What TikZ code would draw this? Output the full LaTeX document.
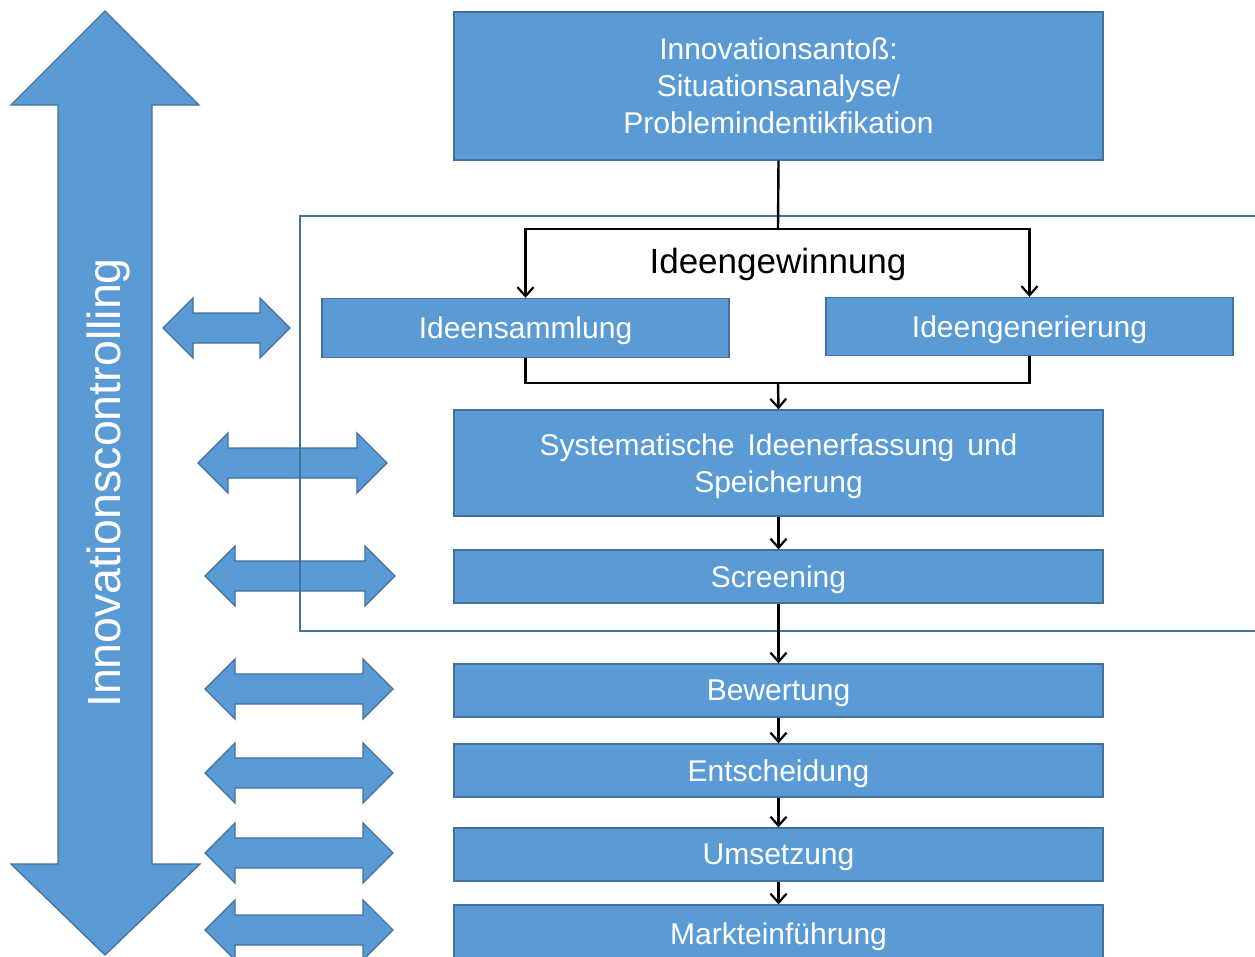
\documentclass[tikz,border=0pt]{standalone}
\usepackage{fontspec}
\setmainfont{Liberation Sans}
\usetikzlibrary{arrows.meta}
\definecolor{boxfill}{HTML}{5B9BD5}
\definecolor{boxline}{HTML}{41719C}
\tikzset{
  stagebox/.style={rectangle, draw=boxline, line width=1.3pt, fill=boxfill,
    text=white, align=center, inner sep=0pt, text depth=0pt,
    font=\fontsize{30}{37}\selectfont},
  flowline/.style={draw=black, line width=2.4pt},
  flowarrow/.style={flowline, -{Straight Barb[length=9pt,width=16pt,line width=2.2pt]}},
  bigshape/.style={fill=boxfill, draw=boxline, line width=1.3pt, line join=miter},
  framebox/.style={draw=boxline, line width=1.3pt}
}
% horizontal double arrow: left tip x, right tip x, centre y
\newcommand{\twowayarrow}[3]{%
  \path[bigshape] (#1,#3) -- (#1+30,#3-30) -- (#1+30,#3-15) -- (#2-30,#3-15)
    -- (#2-30,#3-30) -- (#2,#3) -- (#2-30,#3+30) -- (#2-30,#3+15)
    -- (#1+30,#3+15) -- (#1+30,#3+30) -- cycle;}
\begin{document}
\begin{tikzpicture}[x=1pt,y=-1pt]
\useasboundingbox (0,0) rectangle (1255,956);

% controlling arrow on the left
\path[bigshape] (105,11) -- (199,105) -- (152,105) -- (152,864) -- (200,864)
  -- (105,955) -- (11,864) -- (58,864) -- (58,105) -- (11,105) -- cycle;
\node[rotate=90, text=white, font=\fontsize{46.5}{50}\selectfont, inner sep=0pt]
  (ctrl) at (108,483) {Innovationscontrolling};

% links between controlling and the stages
\twowayarrow{163}{290}{328}
\twowayarrow{198}{387}{463}
\twowayarrow{205}{395}{576}
\twowayarrow{205}{393}{689}
\twowayarrow{205}{393}{773}
\twowayarrow{205}{393}{853}
\twowayarrow{205}{393}{930}

% frame around the idea generation phase
\draw[framebox] (1262,216) -- (300,216) -- (300,631) -- (1262,631);

% stages
\node[stagebox, minimum width=649pt, minimum height=148pt] (top) at (778.5,86)
  {Innovationsantoß:\\Situationsanalyse/\\Problemindentikfikation};
\node[font=\fontsize{35}{40}\selectfont, inner sep=0pt, text depth=0pt] (gw) at (778,261) {Ideengewinnung};
\node[stagebox, minimum width=407pt, minimum height=59pt] (samm) at (525.5,328) {Ideensammlung};
\node[stagebox, minimum width=407pt, minimum height=58pt] (gen) at (1029.5,326.5) {Ideengenerierung};
\node[stagebox, minimum width=649pt, minimum height=106pt] (sys) at (778.5,463)
  {Systematische\hspace{13pt}Ideenerfassung\hspace{13pt}und\\Speicherung};
\node[stagebox, minimum width=649pt, minimum height=53pt] (scr) at (778.5,576.5) {Screening};
\node[stagebox, minimum width=649pt, minimum height=53pt] (bew) at (778.5,690.5) {Bewertung};
\node[stagebox, minimum width=649pt, minimum height=53pt] (ent) at (778.5,770.5) {Entscheidung};
\node[stagebox, minimum width=649pt, minimum height=53pt] (ums) at (778.5,854.5) {Umsetzung};
\node[stagebox, minimum width=649pt, minimum height=58pt] (mkt) at (778.5,934) {Markteinführung};

% flow
\coordinate (fork) at (778,229);
\coordinate (join) at (778,383);
\draw[flowline] (top.south) -- (fork);
\draw[flowarrow] (fork) -| (samm.north);
\draw[flowarrow] (fork) -| (gen.north);
\draw[flowline] (samm.south) |- (join);
\draw[flowline] (gen.south) |- (join);
\draw[flowarrow] (join) -- (sys.north);
\draw[flowarrow] (sys) -- (scr);
\draw[flowarrow] (scr) -- (bew);
\draw[flowarrow] (bew) -- (ent);
\draw[flowarrow] (ent) -- (ums);
\draw[flowarrow] (ums) -- (mkt);
\end{tikzpicture}
\end{document}
